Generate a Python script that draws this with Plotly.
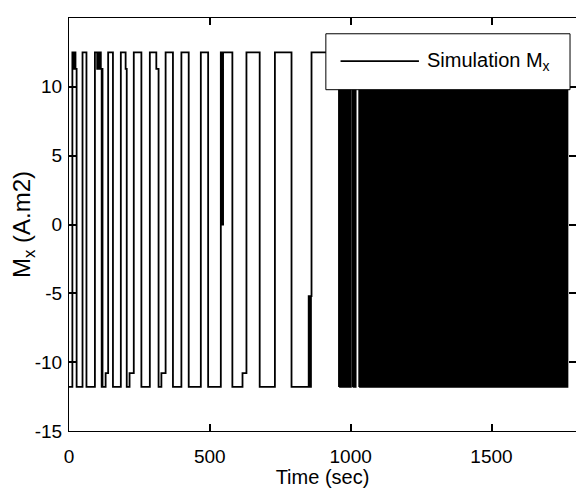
import plotly.graph_objects as go

# Step signal (switching instants in seconds and the level held from each instant)
switch_t = [0, 12, 15, 17, 19, 21, 23, 27, 48, 62, 92, 100, 103, 106, 110, 113, 116,
            117.5, 119, 130, 139, 156, 184, 201, 205, 215, 230, 257, 287, 310, 318,
            328, 343, 369, 399, 425, 468, 494, 539, 541, 543, 545, 547, 580, 616,
            630, 677, 731, 790, 851, 853, 855, 857, 859, 861, 959]
switch_m = [-11.8, 12.5, 11.3, 12.5, 11.3, 12.5, 11.3, -11.8, 12.5, -11.8, 12.5, 11.3,
            12.5, 11.3, 12.5, 11.3, -11.8, 11.3, -11.8, -10.8, 12.5, -11.8, 12.5, 11.3,
            -11.8, -10.8, 12.5, -11.8, 12.5, 11.3, -11.8, -10.8, 12.5, -11.8, 12.5,
            -11.8, 12.5, -11.8, 12.5, 0.0, 12.5, 0.0, 12.5, -11.8, -10.8, 12.5, -11.8,
            12.5, -11.8, -5.2, -11.8, -5.2, -11.8, -5.2, 12.5, -11.8]

# Fast-chattering bands (start, end in seconds) between the two saturation levels
band_start = [959, 1007, 1030]
band_end = [1001, 1018, 1770]
level_high = 12.5
level_low = -11.8

x_ticks = [0, 500, 1000, 1500]
y_ticks = [-15, -10, -5, 0, 5, 10, 15]

FONT = "Liberation Sans, Arial, sans-serif"

fig = go.Figure()
fig.add_trace(go.Scatter(x=switch_t, y=switch_m, mode="lines", line_shape="hv",
                         line=dict(color="black", width=1.8), showlegend=False,
                         hoverinfo="skip"))
for s, e in zip(band_start, band_end):
    fig.add_trace(go.Scatter(x=[s, e, e, s, s],
                             y=[level_low, level_low, level_high, level_high, level_low],
                             mode="lines", fill="toself", fillcolor="black",
                             line=dict(color="black", width=1.6), showlegend=False,
                             hoverinfo="skip"))

# Legend (MATLAB-style box with long line sample)
fig.add_shape(type="rect", xref="paper", yref="paper", x0=0.5066, x1=0.9882,
              y0=0.8264, y1=0.9618, line=dict(color="black", width=1), fillcolor="white")
fig.add_shape(type="line", xref="paper", yref="paper", x0=0.5356, x1=0.6902,
              y0=0.8955, y1=0.8955, line=dict(color="black", width=1.8))
fig.add_annotation(xref="paper", yref="paper", x=0.703, y=0.8955, xanchor="left",
                   yanchor="middle", showarrow=False, text="Simulation M<sub>x</sub>",
                   font=dict(family=FONT, size=20, color="black"))

axis_common = dict(showline=True, linecolor="black", linewidth=1, mirror="ticks",
                   ticks="inside", ticklen=7, tickcolor="black", tickwidth=1.5,
                   showgrid=False, zeroline=False, automargin=False,
                   tickfont=dict(family=FONT, size=19, color="black"))
fig.update_xaxes(range=[0, 1800], tickvals=x_ticks, ticktext=[str(v) for v in x_ticks],
                 ticklabelstandoff=8,
                 title=dict(text="Time (sec)", font=dict(family=FONT, size=20, color="black"),
                            standoff=7), **axis_common)
fig.update_yaxes(range=[-15, 15], tickvals=y_ticks, ticktext=[str(v) for v in y_ticks],
                 ticklabelstandoff=2,
                 title=dict(text="M<sub>x</sub> (A.m2)",
                            font=dict(family=FONT, size=24, color="black"), standoff=3),
                 **axis_common)
# The page adds an 8 px body margin, so the figure is 8 px smaller than the window
fig.update_layout(width=576, height=480, plot_bgcolor="white", paper_bgcolor="white",
                  margin=dict(l=61, r=8, t=10, b=57), showlegend=False)

fig.write_html("out.html")
